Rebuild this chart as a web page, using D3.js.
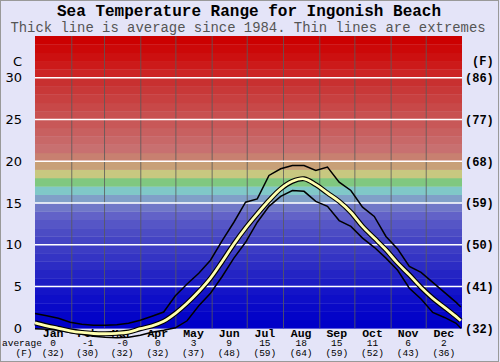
<!DOCTYPE html>
<html>
<head>
<meta charset="utf-8">
<script src="https://cdn.jsdelivr.net/npm/d3@7"></script>
<style>
  body { margin: 0; background: #e4e4f8; }
  svg { display: block; }
</style>
</head>
<body>
<div class="container"></div>
<script>
// day of year for each reading
const days = [0, 10, 20, 30, 40, 50, 60, 70, 80, 90, 100, 110, 120, 130, 140, 150, 160, 170, 180,
  190, 200, 210, 220, 230, 240, 250, 260, 270, 280, 290, 300, 310, 320, 330, 340, 350, 360, 364]

// average sea temperature (C)
const avgTemp = [0.66, 0.3, 0.0, -0.3, -0.5, -0.62, -0.65, -0.6, -0.45, -0.05, 0.3, 0.85, 1.8, 3.0,
  4.4, 6.0, 8.0, 10.1, 12.0, 13.7, 15.3, 16.7, 17.6, 17.9, 17.2, 16.2, 15.2, 13.9, 12.2, 10.8,
  9.4, 7.8, 6.4, 4.9, 3.6, 2.5, 1.4, 0.9]

// warmest recorded (C)
const maxTemp = [1.76, 1.5, 1.2, 0.72, 0.48, 0.36, 0.36, 0.42, 0.6, 0.96, 1.44, 1.95, 3.9, 5.3,
  6.6, 8.15, 10.5, 12.7, 15.1, 15.5, 18.3, 19.1, 19.5, 19.5, 18.9, 19.3, 17.5, 16.5, 14.5, 13.4,
  11.0, 9.5, 7.4, 6.7, 5.5, 4.3, 3.1, 2.55]

// coldest recorded (C)
const minTemp = [-0.05, -0.1, -0.24, -0.5, -0.72, -0.96, -1.08, -1.14, -1.08, -0.84, -0.48, -0.24,
  0.06, 0.9, 2.7, 4.2, 6.2, 8.4, 10.3, 12.7, 14.6, 15.8, 16.5, 16.4, 15.2, 14.6, 12.9, 12.2,
  10.8, 9.7, 8.4, 6.95, 4.8, 3.5, 1.9, 1.3, 0.6, 0.0]

const months = ['Jan', 'Feb', 'Mar', 'Apr', 'May', 'Jun', 'Jul', 'Aug', 'Sep', 'Oct', 'Nov', 'Dec']
const monthStart = [0, 31, 59, 90, 120, 151, 181, 212, 243, 273, 304, 334, 365]
const monthAvgC = ['0', '-1', '-0', '0', '3', '9', '15', '18', '15', '11', '6', '2']
const monthAvgF = ['(32)', '(30)', '(32)', '(32)', '(37)', '(48)', '(59)', '(64)', '(59)', '(52)', '(43)', '(36)']

const cTicks = [0, 5, 10, 15, 20, 25, 30]
const fTicks = ['(32)', '(41)', '(50)', '(59)', '(68)', '(77)', '(86)']

// one colour per degree band, 0..35 C
const bandColors = ['#0000c8', '#0404c8', '#0909c8', '#0e0ec8', '#1414c8',
  '#1c1cc4', '#2424c4', '#2c2cc4', '#3434c4', '#3c3cc4',
  '#4444c4', '#4c4cc4', '#5656c6', '#6262c8', '#7078c8',
  '#80a0c8', '#80c8c8', '#80c880', '#c8c880', '#c8a078',
  '#c88070', '#c87070', '#c86868', '#c86060', '#c85858',
  '#c85050', '#c84848', '#c84040', '#c83838', '#c83030',
  '#cc2424', '#cc1a1a', '#cc1010', '#cc0808', '#cc0000']

const W = 500
const H = 362
const mono = '"Liberation Mono", "Courier New", monospace'

const svg = d3.select('.container').append('svg').attr('width', W).attr('height', H)

svg.append('rect').attr('x', 0.5).attr('y', 0.5).attr('width', W - 2).attr('height', H - 1)
  .attr('fill', '#e4e4f8').attr('stroke', '#999')

const x = d3.scaleLinear().domain([0, 365]).range([35, 462])
const y = d3.scaleLinear().domain([0, 35]).range([328.3, 36])

// colour bands
svg.append('g').selectAll('rect')
  .data(bandColors)
  .enter()
  .append('rect')
  .attr('x', x(0))
  .attr('width', x(365) - x(0))
  .attr('y', (d, i) => y(i + 1))
  .attr('height', (d, i) => y(i) - y(i + 1) + 0.3)
  .attr('fill', (d) => d)

// month grid
svg.append('g').selectAll('line')
  .data(monthStart.slice(1, 12))
  .enter()
  .append('line')
  .attr('x1', (d) => x(d) + 0.5).attr('x2', (d) => x(d) + 0.5)
  .attr('y1', y(35)).attr('y2', y(0))
  .attr('stroke', '#5a5a5a').attr('stroke-opacity', 0.8)

// temperature grid
svg.append('g').selectAll('line')
  .data(cTicks.slice(1))
  .enter()
  .append('line')
  .attr('x1', x(0)).attr('x2', x(365))
  .attr('y1', (d) => y(d)).attr('y2', (d) => y(d))
  .attr('stroke', '#fff').attr('stroke-width', 1.6)

// titles
svg.append('text').attr('x', 249).attr('y', 15.5).attr('text-anchor', 'middle')
  .attr('font-family', mono).attr('font-weight', 'bold').attr('font-size', '16px')
  .text('Sea Temperature Range for Ingonish Beach')
svg.append('text').attr('x', 248).attr('y', 31.5).attr('text-anchor', 'middle')
  .attr('font-family', mono).attr('font-size', '13.9px').attr('fill', '#555')
  .text('Thick line is average since 1984. Thin lines are extremes')

// left axis (C)
const left = svg.append('g').attr('font-family', '"DejaVu Sans", sans-serif').attr('font-size', '13px')
left.selectAll('text.t')
  .data(cTicks)
  .enter()
  .append('text')
  .attr('class', 't')
  .attr('x', 22).attr('y', (d) => y(d)).attr('dy', '0.36em')
  .attr('text-anchor', 'end')
  .text((d) => d)
left.append('text').attr('x', 22).attr('y', 61).attr('dy', '0.36em').attr('text-anchor', 'end').text('C')

// right axis (F)
const right = svg.append('g').attr('font-family', mono).attr('font-weight', 'bold').attr('font-size', '12px')
right.selectAll('text.t')
  .data(fTicks)
  .enter()
  .append('text')
  .attr('class', 't')
  .attr('x', 465).attr('y', (d, i) => y(cTicks[i])).attr('dy', '0.36em')
  .text((d) => d)
right.append('text').attr('x', 472).attr('y', 61).attr('dy', '0.36em').text('(F)')

// month labels
const bottom = svg.append('g').attr('font-family', mono).attr('font-weight', 'bold').attr('text-anchor', 'middle')
const mid = (i) => x((monthStart[i] + monthStart[i + 1]) / 2)
bottom.selectAll('text.m')
  .data(months)
  .enter()
  .append('text')
  .attr('class', 'm')
  .attr('x', (d, i) => mid(i)).attr('y', 336.5)
  .attr('font-size', '11.5px')
  .text((d) => d)
bottom.selectAll('text.c')
  .data(monthAvgC)
  .enter()
  .append('text')
  .attr('class', 'c')
  .attr('x', (d, i) => mid(i)).attr('y', 346)
  .attr('font-size', '9.5px').attr('font-weight', 'normal')
  .text((d) => d)
bottom.selectAll('text.f')
  .data(monthAvgF)
  .enter()
  .append('text')
  .attr('class', 'f')
  .attr('x', (d, i) => mid(i)).attr('y', 355.5)
  .attr('font-size', '9.5px').attr('font-weight', 'normal')
  .text((d) => d)
bottom.append('text').attr('x', 2).attr('y', 346).attr('text-anchor', 'start')
  .attr('font-size', '9.5px').attr('font-weight', 'normal').text('average')
bottom.append('text').attr('x', 24).attr('y', 355.5)
  .attr('font-size', '9.5px').attr('font-weight', 'normal').text('(F)')

// curves
const thinLine = d3.line()
  .x((d, i) => x(days[i]))
  .y((d) => y(d))

const avgLine = d3.line()
  .x((d, i) => x(days[i]))
  .y((d) => y(d))
  .curve(d3.curveCatmullRom)

svg.append('path').attr('d', thinLine(maxTemp)).attr('fill', 'none').attr('stroke', '#000').attr('stroke-width', 1.5)
svg.append('path').attr('d', thinLine(minTemp)).attr('fill', 'none').attr('stroke', '#000').attr('stroke-width', 1.5)
svg.append('path').attr('d', avgLine(avgTemp)).attr('fill', 'none').attr('stroke', '#000').attr('stroke-width', 5)
svg.append('path').attr('d', avgLine(avgTemp)).attr('fill', 'none').attr('stroke', '#ffffb0').attr('stroke-width', 2.8)
</script>
</body>
</html>
